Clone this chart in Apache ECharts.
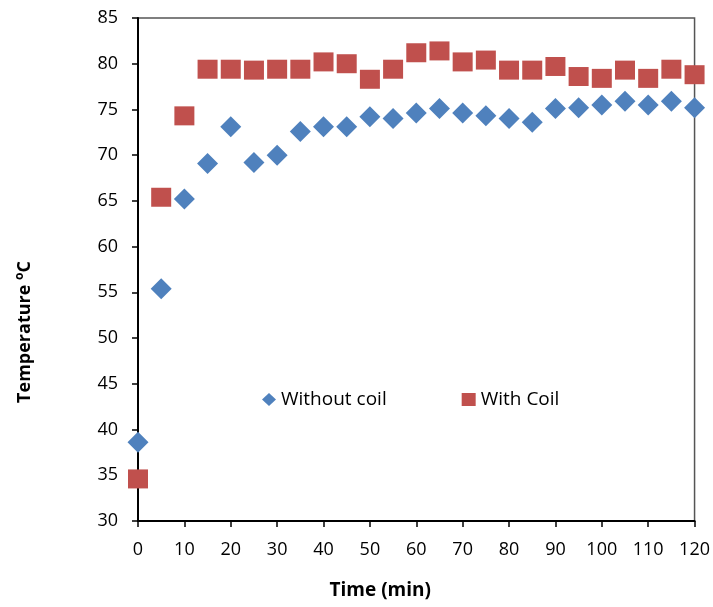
<!DOCTYPE html>
<html>
<head>
<meta charset="utf-8">
<script src="https://cdn.jsdelivr.net/npm/echarts@6/dist/echarts.min.js"></script>
<style>
  html, body { margin: 0; padding: 0; background: #fff; }
  #main { width: 713px; height: 607px; }
</style>
</head>
<body>
<div id="main"></div>
<script>
// time in minutes
var times = [0, 5, 10, 15, 20, 25, 30, 35, 40, 45, 50, 55, 60, 65, 70, 75, 80, 85, 90, 95, 100, 105, 110, 115, 120];
// temperatures
var withoutCoil = [38.6, 55.4, 65.2, 69.1, 73.1, 69.2, 70.0, 72.6, 73.1, 73.1, 74.2, 74.0, 74.6, 75.1, 74.6, 74.3, 74.0, 73.6, 75.1, 75.2, 75.5, 75.9, 75.5, 75.9, 75.2];
var withCoil = [34.6, 65.4, 74.3, 79.4, 79.4, 79.3, 79.4, 79.4, 80.2, 80.0, 78.3, 79.4, 81.2, 81.4, 80.2, 80.4, 79.3, 79.3, 79.7, 78.6, 78.4, 79.3, 78.4, 79.4, 78.8];

var FONT = '"Open Sans", sans-serif';

function pairs(ys) {
    return times.map(function (t, i) { return [t, ys[i]]; });
}

var myChart = echarts.init(document.getElementById('main'));
var option = {
    animation: false,
    textStyle: { fontFamily: FONT },
    grid: {
        left: 138, right: 18, top: 18, bottom: 86,
        show: true, borderColor: '#555', borderWidth: 1.5
    },
    legend: {
        left: 257, top: 385,
        itemGap: 75,
        itemWidth: 14, itemHeight: 13,
        textStyle: { fontSize: 19, color: '#000', fontFamily: FONT },
        data: [
            { name: 'Without coil', icon: 'diamond' },
            { name: 'With Coil', icon: 'rect' }
        ]
    },
    xAxis: {
        type: 'value', min: 0, max: 120, interval: 10,
        name: 'Time (min)', nameLocation: 'middle', nameGap: 60,
        nameTextStyle: { fontSize: 19, fontWeight: 'bold', color: '#000', fontFamily: FONT, padding: [0, 72, 0, 0] },
        axisLine: { lineStyle: { color: '#000', width: 2 } },
        axisTick: { show: true, inside: false, length: 6, lineStyle: { color: '#000', width: 1.5 } },
        axisLabel: { fontSize: 18, color: '#000', margin: 20 },
        splitLine: { show: false }
    },
    yAxis: {
        type: 'value', min: 30, max: 85, interval: 5,
        name: 'Temperature {sup|o}C', nameLocation: 'middle', nameGap: 103, nameRotate: 90,
        nameTextStyle: {
            fontSize: 18, fontWeight: 'bold', color: '#000', fontFamily: FONT, padding: [0, 125, 0, 0],
            rich: { sup: { fontSize: 12, fontWeight: 'bold', verticalAlign: 'top', padding: [0, 0, 9, 0] } }
        },
        axisLine: { show: true, lineStyle: { color: '#000', width: 2 } },
        axisTick: { show: true, inside: false, length: 6, lineStyle: { color: '#000', width: 1.5 } },
        axisLabel: { fontSize: 18, color: '#000', margin: 20 },
        splitLine: { show: false }
    },
    series: [
        {
            name: 'Without coil', type: 'scatter',
            symbol: 'diamond', symbolSize: [21, 21],
            itemStyle: { color: '#4F81BD', opacity: 1 },
            data: pairs(withoutCoil)
        },
        {
            name: 'With Coil', type: 'scatter',
            symbol: 'rect', symbolSize: [20, 19],
            itemStyle: { color: '#C0504D', opacity: 1 },
            data: pairs(withCoil)
        }
    ]
};
myChart.setOption(option);
</script>
</body>
</html>
